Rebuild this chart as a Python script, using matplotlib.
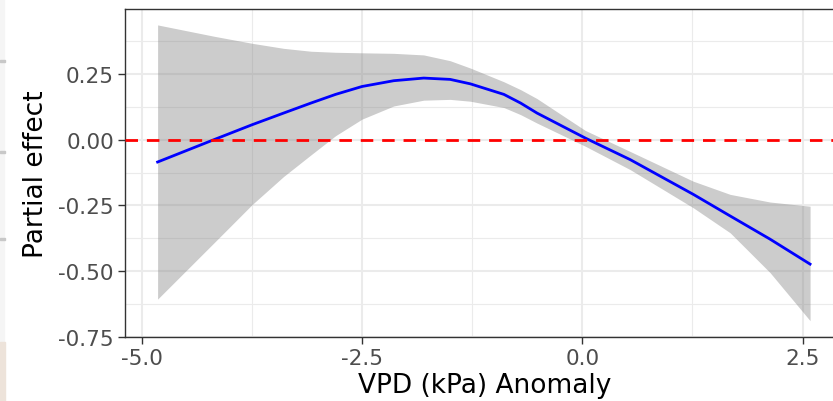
#!/usr/bin/env python3

import matplotlib.pyplot as plt
from matplotlib.patches import Rectangle

# partial effect of VPD anomaly
vpd = [-4.82, -4.18, -3.745, -3.39, -3.08, -2.8, -2.5, -2.14, -1.80, -1.5, -1.27,
       -0.89, -0.7, -0.514, 0.034, 0.544, 1.26, 1.678, 2.13, 2.585]
fit = [-0.085, 0.0, 0.057, 0.101, 0.139, 0.172, 0.202, 0.224, 0.234, 0.229, 0.212,
       0.172, 0.139, 0.101, 0.006, -0.076, -0.208, -0.29, -0.378, -0.473]
upper = [0.436, 0.393, 0.366, 0.347, 0.336, 0.332, 0.330, 0.328, 0.322, 0.300, 0.272,
         0.220, 0.190, 0.156, 0.035, -0.045, -0.158, -0.208, -0.237, -0.253]
lower = [-0.606, -0.392, -0.246, -0.14, -0.058, 0.015, 0.078, 0.128, 0.150, 0.153, 0.146,
         0.122, 0.095, 0.063, -0.025, -0.114, -0.259, -0.354, -0.505, -0.688]

xticks = [-5.0, -2.5, 0.0, 2.5]
yticks = [-0.75, -0.50, -0.25, 0.00, 0.25]


def main():
    fig = plt.figure(figsize=(8.33, 4.02), dpi=100)
    ax = fig.add_axes([125 / 833, 1 - 338 / 402, 719 / 833, 328 / 402])

    ax.fill_between(vpd, lower, upper, color="grey", alpha=0.4, linewidth=0, zorder=2)
    ax.plot(vpd, fit, color="blue", linewidth=2.0, zorder=3,
            solid_joinstyle="round")
    ax.axhline(0, color="red", linewidth=2.0, dashes=(4.5, 3.2), zorder=4)

    ax.set_xlim(-5.19, 2.97)
    ax.set_ylim(-0.75, 0.4965)
    ax.set_xticks(xticks)
    ax.set_xticklabels(["%.1f" % t for t in xticks])
    ax.set_yticks(yticks)
    ax.set_yticklabels(["%.2f" % t for t in yticks])
    ax.set_xticks([-3.75, -1.25, 1.25], minor=True)
    ax.set_yticks([-0.625, -0.375, -0.125, 0.125, 0.375], minor=True)

    ax.grid(which="major", color="#EBEBEB", linewidth=1.5, zorder=0)
    ax.grid(which="minor", color="#EBEBEB", linewidth=0.8, zorder=0)
    ax.set_axisbelow(True)

    for s in ax.spines.values():
        s.set_color("#333333")
        s.set_linewidth(1.0)
    ax.tick_params(which="major", length=5, width=1.0, color="#333333",
                   labelcolor="#4D4D4D", labelsize=15.5, pad=3)
    ax.tick_params(which="minor", length=0)

    ax.set_xlabel("VPD (kPa) Anomaly", fontsize=19, color="black", labelpad=3)
    ax.set_ylabel("Partial effect", fontsize=19, color="black", labelpad=7)

    # screenshot leftovers along the left edge
    fig.patches.append(Rectangle((0, 57 / 402), 4 / 833, 345 / 402, transform=fig.transFigure,
                                 color="#F5F5F5", zorder=0))
    fig.patches.append(Rectangle((0, 0), 5 / 833, 59 / 402, transform=fig.transFigure,
                                 color="#EDE3DA", zorder=0))
    for yy in [62, 153, 240]:
        fig.patches.append(Rectangle((0, 1 - (yy + 1) / 402), 5 / 833, 2 / 402,
                                     transform=fig.transFigure, color="#C8C8C8", zorder=0))

    fig.savefig("out.png", dpi=100)


if __name__ == "__main__":
    main()
